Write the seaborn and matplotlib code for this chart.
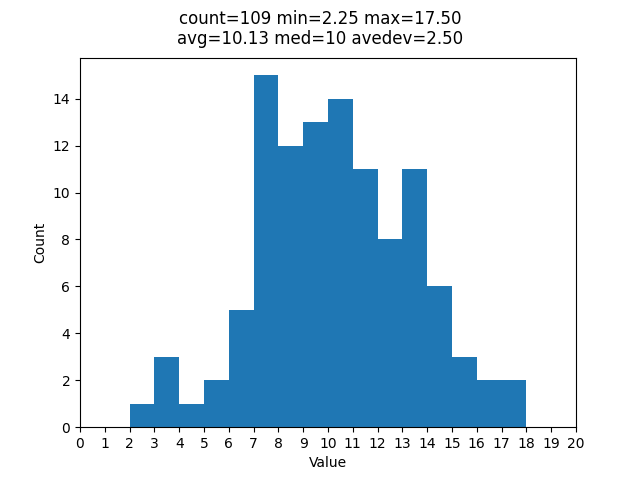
import matplotlib
matplotlib.use('Agg')
import matplotlib.pyplot as plt
import seaborn as sns
import numpy as np

# histogram: unit-width bins from 0 to 20
bin_edges = list(range(0, 21))
bin_counts = [0, 0, 1, 3, 1, 2, 5, 15, 12, 13, 14, 11, 8, 11, 6, 3, 2, 2, 0, 0]
title_text = "count=109 min=2.25 max=17.50\navg=10.13 med=10 avedev=2.50"

centers = [e + 0.5 for e in bin_edges[:-1]]

fig, ax = plt.subplots(figsize=(6.4, 4.8), dpi=100)
sns.histplot(x=centers, weights=bin_counts, bins=bin_edges, ax=ax,
             color='#1f77b4', alpha=1, edgecolor='none', linewidth=0)
ax.set_xlim(0, 20)
ax.set_xticks(bin_edges)
ax.set_xlabel("Value")
ax.set_ylabel("Count")
fig.suptitle(title_text, fontsize=12)

plt.savefig("out.png", dpi=100)
plt.close()
